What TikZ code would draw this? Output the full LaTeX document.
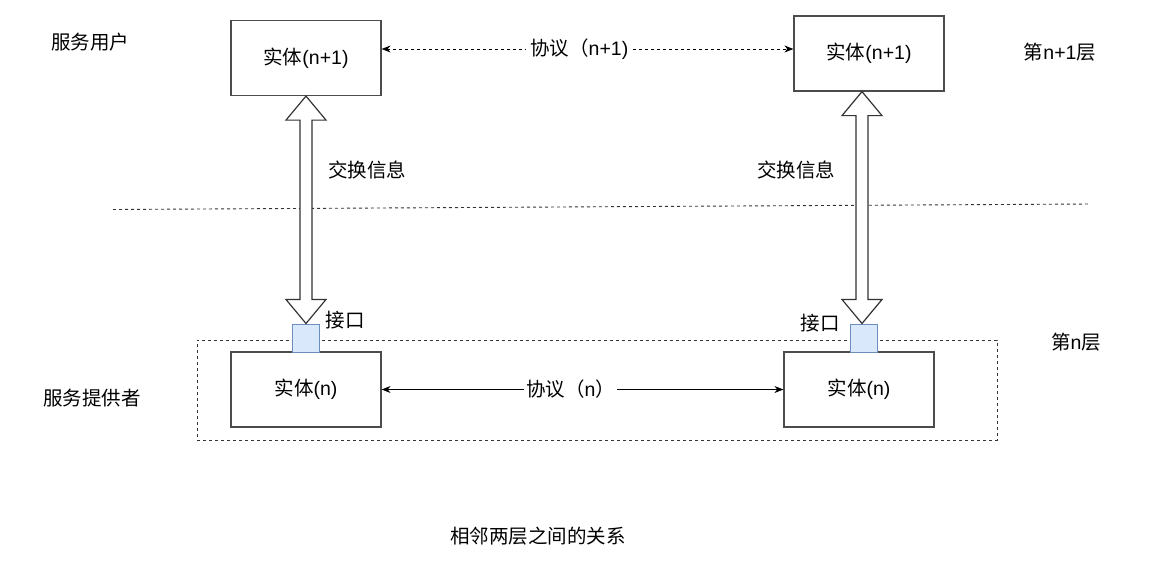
\documentclass[tikz,border=0pt]{standalone}
\usepackage{fontspec}
\setmainfont{Liberation Sans}
\newfontfamily\cjk{Noto Sans CJK SC}
\usetikzlibrary{arrows.meta,calc}
\definecolor{ifill}{HTML}{DAE8FC}
\definecolor{idraw}{HTML}{6C8EBF}
\begin{document}
\begin{tikzpicture}[x=1pt,y=-1pt,
  every node/.style={font=\fontsize{19.5}{22}\selectfont, inner sep=0pt},
  entity/.style={draw=black!70, line width=1.2pt, minimum width=150pt, minimum height=75pt, fill=white},
  iface/.style={draw=idraw, fill=ifill, line width=1pt, minimum width=27pt, minimum height=28pt},
  layerbox/.style={draw=black!80, dash pattern=on 3pt off 3pt, line width=1pt},
  lbl/.style={fill=white, inner xsep=2pt},
  flex/.style={draw=black!80, line width=1.2pt, fill=white}
]
\useasboundingbox (0,0) rectangle (1162,560);

% layer container
\node[layerbox, minimum width=800pt, minimum height=100pt] (layer) at (597,390) {};

% entities
\node[entity] (tl) at (306,58) {{\cjk 实体}(n+1)};
\node[entity] (tr) at (869,53.5) {{\cjk 实体}(n+1)};
\node[entity] (bl) at (306,389.5) {{\cjk 实体}(n)};
\node[entity] (br) at (859,389.5) {{\cjk 实体}(n)};

% interfaces
\node[iface] (il) at (305.5,338) {};
\node[iface] (ir) at (864,338) {};

% separating dashed line
\coordinate (sepL) at (113,209.5);
\coordinate (sepR) at (1090,204);
\draw[black!80, dash pattern=on 3pt off 3pt, line width=0.9pt] (sepL) -- (sepR);

% flex double arrows (let-coordinates are in TikZ canonical units, y up)
\foreach \a/\b/\xx in {tl/il/306, tr/ir/862}{
  \path[flex] let \p1=(\a.south), \p2=(\b.north) in
    (\xx,\y1) -- (\xx+20,\y1-24) -- (\xx+6,\y1-24) -- (\xx+6,\y2+24) -- (\xx+20,\y2+24)
    -- (\xx,\y2) -- (\xx-20,\y2+24) -- (\xx-6,\y2+24) -- (\xx-6,\y1-24) -- (\xx-20,\y1-24) -- cycle;
}

% protocol arrows
\draw[{Stealth[length=9pt,width=7pt]}-{Stealth[length=9pt,width=7pt]}, dash pattern=on 3pt off 3pt, line width=0.9pt]
  ($(tl.east)+(0,-9)$) -- node[lbl, pos=0.48, inner xsep=4pt] (p1) {{\cjk 协议（}n+1)} ($(tr.west)+(0,-4.5)$);
\draw[{Stealth[length=9pt,width=7pt]}-{Stealth[length=9pt,width=7pt]}, line width=1pt]
  (bl.east) -- node[lbl, pos=0.47, inner xsep=2pt] (p0) {{\cjk 协议（}n{\cjk ）}} (br.west);

% labels
\node (x1) at (367,170) {\cjk 交换信息};
\node (x2) at (796,170) {\cjk 交换信息};
\node (k1) at (345,320) {\cjk 接口};
\node (k2) at (820,323) {\cjk 接口};
\node (u) at (90,42) {\cjk 服务用户};
\node (pv) at (92,398) {\cjk 服务提供者};
\node (l1) at (1060,52) {{\cjk 第}n+1{\cjk 层}};
\node (l0) at (1076,342) {{\cjk 第}n{\cjk 层}};
\node (cap) at (538,536) {\cjk 相邻两层之间的关系};
\end{tikzpicture}
\end{document}
